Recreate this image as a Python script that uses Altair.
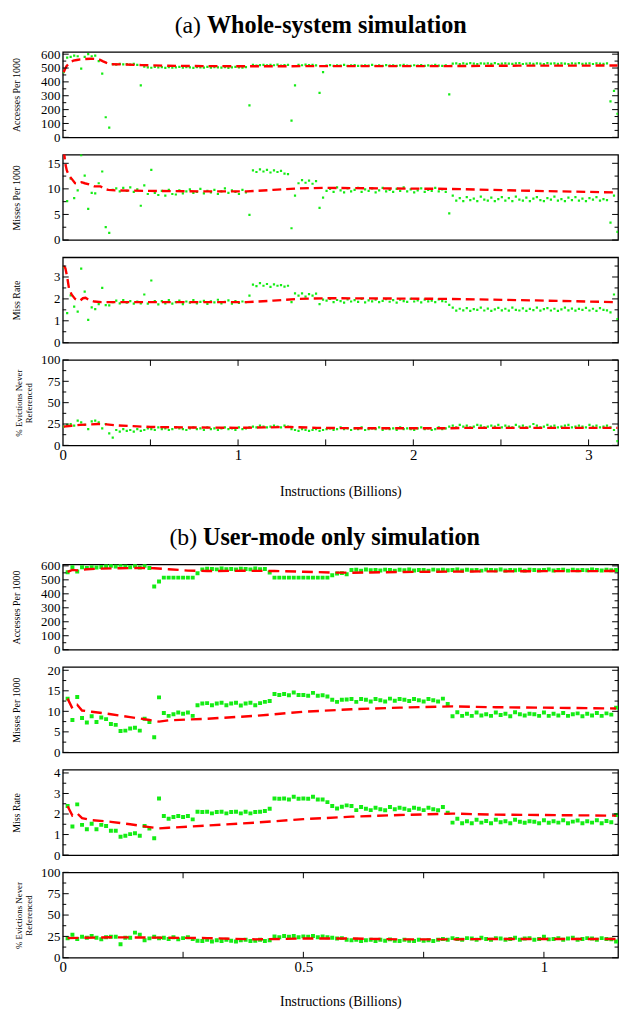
import altair as alt
import pandas as pd

SERIF = "Liberation Serif"
GREEN = "#14ec14"
RED = "#ff0000"

TITLE_A = ["(a)", "Whole-system simulation"]
TITLE_B = ["(b)", "User-mode only simulation"]
X_TITLE = "Instructions (Billions)"
Y_TITLES = ["Accesses Per 1000", "Misses Per 1000", "Miss Rate", ["% Evictions Never", "Referenced"]]

# ---------------- (a) whole-system: samples every 0.02 billion instructions
top_x = [round(0.005 + 0.02 * i, 3) for i in range(159)]

top_access = [470, 575, 580, 590, 585, 495, 580, 600, 585, 590, 550, 460, 145, 70,
              528, 525, 530, 526, 528, 524, 530, 522,
              375, 510, 505,
              502, 508, 504, 506, 501, 507, 503, 505, 508, 502, 506, 504, 501, 507, 505, 503, 508, 502, 506, 504,
              503, 507, 501, 505, 508, 504, 502, 506,
              230,
              522, 518, 521, 523, 519, 522, 520, 524, 518, 521, 522,
              120, 375,
              522, 520, 524, 521, 523, 519,
              320, 470,
              518, 521, 516, 520, 517, 522, 515, 519, 521, 516, 518, 520, 517, 522, 516, 519, 515, 521, 518, 520,
              516, 519, 522, 517, 515, 520, 518, 521, 516, 519, 517, 522, 518, 515, 520,
              310,
              531, 534, 529, 533, 530, 535, 532, 529, 534, 531, 533, 530, 535, 529, 532, 534, 531, 530, 533, 535,
              529, 532, 534, 530, 533, 531, 529, 535, 532, 533, 530, 534, 531, 529, 533, 532, 535, 530, 531, 534,
              529, 533, 532, 530, 534,
              260, 335, 170]

top_miss = [17.2, 7.6, 12.0, 8.2, 9.7, 16.6, 12.6, 6.1, 9.2, 9.1, 11.1, 13.4, 2.5, 1.4,
            9.8, 10.1, 9.5, 10.2, 9.6, 10.3, 9.4, 9.9,
            6.7, 10.7, 9.0, 13.7, 9.2,
            8.8, 9.6, 8.7, 9.8, 9.0, 8.9, 9.7, 9.1, 9.5, 9.9, 9.2, 9.4, 10.0, 9.1, 9.6, 9.3, 9.8, 9.0, 9.5, 10.1,
            9.2, 9.7, 9.4, 9.0, 9.8, 9.3,
            4.9,
            13.6, 13.3, 13.8, 13.4, 13.7, 13.2, 13.6, 13.3, 13.5, 13.0, 12.9,
            2.3, 8.7,
            11.1, 11.7, 11.2, 11.6, 11.0, 11.5,
            6.3, 8.3,
            9.6, 10.0, 9.4, 10.3, 9.7, 9.3, 10.1, 9.5, 9.8, 10.2, 9.4, 9.9, 9.6, 10.1, 9.3, 9.7, 10.2, 9.5, 9.8, 9.4,
            10.0, 9.6, 10.3, 9.5, 9.9, 9.3, 9.7, 10.1, 9.4, 9.8, 9.6, 10.2, 9.5, 9.9, 9.4,
            5.2,
            8.7, 7.7, 8.2, 7.6, 8.4, 7.8, 8.1, 7.6, 8.5, 7.9, 7.7, 8.3, 7.6, 8.0, 8.4, 7.7, 8.2, 7.6, 8.5, 7.9,
            7.7, 8.3, 7.6, 8.1, 8.4, 7.8, 7.6, 8.2, 7.9, 8.5, 7.7, 8.0, 7.6, 8.3, 7.8, 8.4, 7.7, 8.1, 7.6, 8.2,
            7.9, 8.4, 7.7, 8.0, 7.8,
            3.4, 8.7, 1.6]

top_rate = [3.45, 1.35, 2.16, 1.65, 1.42, 3.38, 2.33, 1.04, 1.61, 1.53, 1.76, 2.5, 1.72, 1.7,
            1.85, 1.92, 1.8, 1.95, 1.83, 1.9, 1.78, 1.88,
            1.8, 2.2, 1.78, 2.84, 1.9,
            1.75, 1.9, 1.8, 1.95, 1.78, 1.85, 1.92, 1.76, 1.88, 1.83, 1.95, 1.79, 1.86, 1.91, 1.77, 1.89, 1.84,
            1.96, 1.8, 1.87, 1.93, 1.78, 1.9, 1.82, 1.88, 1.85,
            2.15,
            2.65, 2.58, 2.72, 2.6, 2.68, 2.55, 2.66, 2.6, 2.63, 2.56, 2.6,
            1.85, 2.25,
            2.15, 2.25, 2.1, 2.22, 2.15, 2.24,
            1.76, 1.97,
            1.92, 2.0, 1.85, 1.95, 1.9, 1.83, 1.98, 1.88, 1.94, 1.86, 2.0, 1.84, 1.93, 1.89, 1.97, 1.85, 1.91,
            1.99, 1.87, 1.94, 1.83, 1.96, 1.9, 1.86, 2.0, 1.88, 1.93, 1.84, 1.97, 1.89, 1.92, 1.85, 1.98, 1.9, 1.87,
            1.73,
            1.6, 1.46, 1.55, 1.48, 1.58, 1.45, 1.53, 1.5, 1.6, 1.47, 1.56, 1.45, 1.52, 1.59, 1.48, 1.55, 1.46,
            1.6, 1.5, 1.47, 1.57, 1.45, 1.54, 1.49, 1.6, 1.46, 1.53, 1.58, 1.47, 1.55, 1.45, 1.52, 1.6, 1.48,
            1.56, 1.46, 1.54, 1.5, 1.59, 1.47, 1.55, 1.45, 1.58, 1.5, 1.48,
            1.38, 2.2, 1.08]

top_evict = [22, 24, 25, 23, 29, 27, 24, 19, 28, 29, 27, 20, 25, 14,
             9,
             18, 16, 19, 17, 18, 16, 19,
             17, 18, 20, 19, 18, 21, 19, 20, 18, 19, 21, 20, 19, 18, 20, 21, 19, 20, 18, 21, 19, 20, 18, 20,
             21, 19, 20, 18, 21, 19, 20,
             21, 22, 21, 23, 22, 21, 22, 23, 22, 21, 23, 22,
             19, 18, 17, 19, 18, 17, 18, 19, 17, 18,
             19, 20, 18, 19, 21, 19, 20, 18, 20, 19, 21, 18, 19, 20, 19, 21, 18, 20, 19, 20, 18, 21, 19, 20,
             19, 18, 20, 21, 19, 20, 18, 19, 21, 19, 20,
             22, 23, 21, 24, 22, 23, 21, 22, 24, 23, 21, 22, 23, 22, 24, 21, 23, 22, 21, 24, 22, 23, 21, 22,
             25, 23, 21, 22, 24, 22, 23, 21, 22, 23, 24, 21, 22, 23, 22, 21, 24, 22, 23, 21, 22, 23,
             21, 18, 5]

# running averages (red dashed)
top_access_avg_x = [0.005, 0.02, 0.04, 0.06, 0.08, 0.1, 0.13, 0.16, 0.19, 0.21, 0.23, 0.25, 0.27, 0.35,
                    0.45, 0.6, 0.8, 1.0, 1.1, 1.3, 1.5, 1.8, 2.2, 2.6, 3.165]
top_access_avg = [470, 512, 540, 553, 558, 562, 565, 567, 565, 560, 548, 537, 527, 526,
                  521, 516, 514, 513, 513, 513, 514, 514, 514, 517, 518]
top_miss_avg_x = [0.005, 0.01, 0.015, 0.023, 0.035, 0.05, 0.07, 0.09, 0.107, 0.125, 0.15, 0.18, 0.215,
                  0.235, 0.26, 0.3, 0.5, 0.8, 1.05, 1.2, 1.35, 1.5, 1.8, 2.2, 2.7, 3.165]
top_miss_avg = [17.5, 16.3, 14.8, 13.6, 12.6, 12.0, 11.1, 11.0, 11.3, 11.1, 10.9, 10.5, 10.5,
                10.0, 9.8, 9.7, 9.6, 9.5, 9.5, 9.8, 10.1, 10.2, 10.1, 10.0, 9.6, 9.3]
top_rate_avg_x = [0.005, 0.015, 0.025, 0.035, 0.05, 0.07, 0.09, 0.1, 0.115, 0.13, 0.15, 0.18, 0.22,
                  0.3, 0.6, 1.05, 1.2, 1.35, 1.5, 1.8, 2.2, 2.7, 3.165]
top_rate_avg = [3.5, 3.4, 3.0, 2.5, 2.2, 2.0, 1.92, 1.93, 2.03, 2.05, 1.95, 1.88, 1.85,
                1.85, 1.85, 1.85, 1.92, 2.0, 2.03, 2.02, 2.0, 1.93, 1.85]
top_evict_avg_x = [0.005, 0.05, 0.1, 0.15, 0.2, 0.25, 0.3, 0.4, 0.5, 0.7, 1.0, 1.15, 1.3, 1.45, 1.7,
                   2.2, 2.3, 2.7, 3.165]
top_evict_avg = [22, 23, 24, 24.5, 25, 24.5, 23.5, 22.5, 21.5, 21, 20.5, 21, 21.5, 20.5, 20,
                 20, 20.5, 20.5, 20.5]

# ---------------- (b) user-mode only: samples every 0.01 billion instructions
bot_x = [round(0.01 * (i + 1), 2) for i in range(115)]

bot_access = [555, 590, 560, 590, 585, 590, 588, 592, 598, 600, 595, 608, 595, 590, 600, 588, 600, 585,
              452, 488,
              516, 516, 516, 516, 516, 516, 516,
              547, 575, 580, 578, 575, 582, 576, 578, 574, 580, 577, 575, 581, 576, 578, 552,
              516, 516, 516, 516, 516, 516, 516, 516, 516, 516, 516, 516,
              533, 545, 548, 540, 570, 572, 566, 574, 569, 571, 567, 573, 570, 566, 572, 569, 574, 567, 571,
              570, 566, 573, 569, 572, 568,
              570, 574, 567, 572, 569, 571, 566, 573, 570, 568, 574, 567, 571, 569, 572, 566, 573, 570, 568,
              571, 574, 567, 570, 572, 566, 573, 569, 571, 568, 574, 570, 567, 572, 569, 571]

bot_miss = [13.1, 7.9, 13.5, 8.4, 7.3, 8.8, 7.4, 8.5, 8.1, 6.9, 6.7, 5.2, 5.3, 5.8, 6.0, 5.3, 8.2, 7.4,
            3.7, 13.4,
            9.6, 8.9, 9.3, 9.7, 9.4, 9.7, 8.9,
            11.5, 11.9, 12.0, 11.5, 11.9, 12.1, 11.5, 11.9, 12.1, 11.4, 11.9, 12.1, 11.5, 12.0, 12.3, 12.5,
            14.2, 14.0, 14.2, 13.9, 14.6, 14.0, 14.0, 13.8, 14.5, 13.8, 13.9, 13.6,
            12.8, 12.3, 12.8, 12.9, 13.0, 12.3, 13.0, 12.8, 12.4, 13.0, 12.7, 12.4, 13.1, 12.6, 13.0, 12.8,
            12.5, 13.0, 12.7, 12.4, 13.0, 12.7, 12.4, 13.1, 11.8,
            8.8, 9.8, 8.9, 9.4, 8.9, 9.7, 9.0, 9.3, 8.9, 9.7, 9.1, 9.4, 8.8, 9.8, 9.3, 9.0, 9.4, 9.3, 8.9,
            9.7, 8.9, 9.4, 9.0, 9.6, 8.9, 9.3, 9.5, 8.8, 9.4, 9.0, 9.6, 8.9, 9.5, 9.2, 10.9]

bot_rate = [2.39, 1.39, 2.47, 1.47, 1.26, 1.53, 1.26, 1.47, 1.42, 1.18, 1.18, 0.89, 0.94, 1.02, 1.06,
            0.94, 1.42, 1.29,
            0.82, 2.76,
            1.9, 1.77, 1.85, 1.9, 1.85, 1.9, 1.74,
            2.11, 2.1, 2.11, 2.03, 2.1, 2.11, 2.03, 2.1, 2.11, 2.03, 2.11, 2.03, 2.1, 2.11, 2.15, 2.26,
            2.76, 2.74, 2.76, 2.71, 2.84, 2.74, 2.76, 2.74, 2.84, 2.71, 2.71, 2.58,
            2.39, 2.27, 2.35, 2.42, 2.39, 2.19, 2.34, 2.26, 2.19, 2.31, 2.23, 2.18, 2.34, 2.23, 2.31, 2.26,
            2.19, 2.31, 2.26, 2.19, 2.31, 2.23, 2.18, 2.34, 2.06,
            1.58, 1.77, 1.55, 1.65, 1.55, 1.72, 1.58, 1.66, 1.55, 1.72, 1.6, 1.65, 1.55, 1.72, 1.62, 1.57,
            1.65, 1.62, 1.55, 1.7, 1.57, 1.65, 1.58, 1.7, 1.55, 1.63, 1.68, 1.55, 1.65, 1.58, 1.7, 1.55,
            1.66, 1.6, 1.95]

bot_evict = [22.7, 27, 22, 24.7, 23.5, 25.5, 23.5, 21.6, 24, 24.7, 24.7, 15.7, 23.5, 23.5, 29.4, 27,
             20.4, 22.7,
             24.7, 22.7,
             23.5, 22, 24, 21.5, 23, 24, 22,
             20, 19.5, 21, 19, 20.5, 19.5, 21, 20, 19, 20.5, 21, 19.5, 20, 21, 19.5, 20.5,
             25, 24, 25.5, 24.5, 25.5, 24, 25, 24.5, 25.5, 24, 25, 24,
             23.5, 22.5, 23, 21, 20.5, 21, 19.5, 20.5, 21, 19.5, 21, 20, 21.5, 20, 19.5, 21, 20, 19.5, 21,
             20, 20.5, 19.5, 21, 22, 21,
             23, 22, 21, 23, 22.5, 21, 23.5, 22, 21, 23, 22.5, 21, 22, 23.5, 21, 22.5, 23, 21, 22, 24.5,
             21.5, 22, 23, 21, 22.5, 23.5, 21, 22, 23, 22.5, 21, 23, 22, 21.5, 19]

bot_access_avg_x = [0.01, 0.02, 0.03, 0.05, 0.08, 0.12, 0.16, 0.19, 0.22, 0.26, 0.3, 0.38, 0.44, 0.5,
                    0.56, 0.6, 0.7, 0.85, 1.0, 1.15]
bot_access_avg = [557, 571, 568, 576, 580, 583, 585, 583, 576, 566, 563, 565, 563, 558,
                  552, 551, 556, 560, 562, 563]
bot_miss_avg_x = [0.01, 0.02, 0.03, 0.04, 0.06, 0.1, 0.14, 0.18, 0.2, 0.22, 0.3, 0.4, 0.5, 0.6, 0.7,
                  0.81, 0.9, 1.0, 1.15]
bot_miss_avg = [13.1, 10.7, 11.6, 10.2, 9.9, 9.3, 8.6, 7.9, 7.5, 7.8, 8.2, 8.9, 9.9, 10.5, 10.9,
                11.2, 11.0, 10.9, 10.7]
bot_rate_avg_x = bot_miss_avg_x
bot_rate_avg = [2.38, 1.92, 2.03, 1.8, 1.7, 1.62, 1.5, 1.36, 1.3, 1.33, 1.44, 1.58, 1.75, 1.87, 1.95,
                2.02, 1.97, 1.95, 1.92]
bot_evict_avg_x = [0.01, 0.1, 0.2, 0.3, 0.4, 0.5, 0.6, 0.7, 0.8, 0.9, 1.0, 1.15]
bot_evict_avg = [23, 24, 23.5, 23, 21.5, 22.5, 22.5, 21.5, 21.5, 22, 22, 22]

for s in (top_access, top_miss, top_rate, top_evict):
    assert len(s) == len(top_x), len(s)
for s in (bot_access, bot_miss, bot_rate, bot_evict):
    assert len(s) == len(bot_x), len(s)

# ---------------- layout
W = 562.4
H = 86.5
GAP = 17
SPACER_H = 86
TOP_XDOM = [0, 3.168]
BOT_XDOM = [0, 1.154]
LABEL_EXPR = "toString(datum.value)"


def panel(xs, ys, lx, ly, xdom, ydom, ylabels, ymajor, yminor, ytitle,
          point_size, dash, xinfo=None, title=None):
    xscale = alt.Scale(domain=xdom, nice=False, zero=False)
    yscale = alt.Scale(domain=ydom, nice=False, zero=False)
    multi = isinstance(ytitle, list)
    yaxis = alt.Axis(values=ylabels, labelExpr=LABEL_EXPR, tickSize=0, domain=False, grid=False,
                     labelFont=SERIF, labelFontSize=13, labelColor="black", labelPadding=3,
                     title=ytitle, titleFont=SERIF, titleFontSize=9 if multi else 10,
                     titleFontWeight="normal", titleColor="black", titleAngle=270,
                     titleAlign="center", titleBaseline="middle", titleLineHeight=10,
                     titleX=-45 if multi else -46.5, titleY=H / 2)
    if xinfo is not None:
        xaxis = alt.Axis(values=xinfo["labels"], labelExpr=LABEL_EXPR, tickSize=0, domain=False,
                         grid=False, labelFont=SERIF, labelFontSize=15, labelColor="black",
                         labelPadding=2, labelFlush=False, labelOverlap=False,
                         title=X_TITLE, titleFont=SERIF, titleFontSize=14, titleFontWeight="normal",
                         titleColor="black", titleBaseline="middle", titleY=xinfo["title_y"])
    else:
        xaxis = None
    xenc = alt.X("x:Q", scale=xscale, axis=xaxis)
    yenc = alt.Y("y:Q", scale=yscale, axis=yaxis)

    pts = alt.Chart(pd.DataFrame({"x": xs, "y": ys})).mark_square(
        size=point_size, color=GREEN, opacity=1, clip=True).encode(x=xenc, y=yenc)
    line = alt.Chart(pd.DataFrame({"x": lx, "y": ly})).mark_line(
        color=RED, strokeWidth=2.4, strokeDash=dash, clip=True).encode(x=xenc, y=yenc)
    layers = [pts, line]

    maj = pd.DataFrame({"y": ymajor})
    mnr = pd.DataFrame({"y": yminor})
    for df, ln in ((maj, 6), (mnr, 3.5)):
        layers.append(alt.Chart(df).mark_rule(color="black", strokeWidth=1).encode(
            y=yenc, x=alt.value(0), x2=alt.value(ln)))
        layers.append(alt.Chart(df).mark_rule(color="black", strokeWidth=1).encode(
            y=yenc, x=alt.value(W - ln), x2=alt.value(W)))
    if xinfo is not None:
        xt = pd.DataFrame({"x": xinfo["ticks"]})
        layers.append(alt.Chart(xt).mark_rule(color="black", strokeWidth=1).encode(
            x=xenc, y=alt.value(0), y2=alt.value(6)))
        layers.append(alt.Chart(xt).mark_rule(color="black", strokeWidth=1).encode(
            x=xenc, y=alt.value(H - 6), y2=alt.value(H)))
    if title is not None:
        layers += title_layers(title[0], title[1], title[2])
    return alt.layer(*layers).properties(width=W, height=H)


def title_layers(parts, x_split, y):
    a = alt.Chart(pd.DataFrame({"t": [parts[0]]})).mark_text(
        font=SERIF, fontSize=24, align="right", baseline="middle", color="black").encode(
        text="t:N", x=alt.value(x_split), y=alt.value(y))
    b = alt.Chart(pd.DataFrame({"t": [parts[1]]})).mark_text(
        font=SERIF, fontSize=24.5, fontWeight="bold", align="left", baseline="middle",
        color="black").encode(text="t:N", x=alt.value(x_split + 6), y=alt.value(y))
    return [a, b]


TOP_DASH = [9, 5]
BOT_DASH = [11, 6]
acc_lab = [0, 100, 200, 300, 400, 500, 600]
acc_min = [50, 150, 250, 350, 450, 550]
ev_lab = [0, 25, 50, 75, 100]
ev_min = [12.5, 37.5, 62.5, 87.5]

a1 = panel(top_x, top_access, top_access_avg_x, top_access_avg, TOP_XDOM, [0, 616],
           acc_lab, acc_lab, acc_min, Y_TITLES[0], 5, TOP_DASH,
           title=(TITLE_A, 140, -26.5))
a2 = panel(top_x, top_miss, top_miss_avg_x, top_miss_avg, TOP_XDOM, [0, 16.7],
           [0, 5, 10, 15], [0, 5, 10, 15], [2.5, 7.5, 12.5], Y_TITLES[1], 5, TOP_DASH)
a3 = panel(top_x, top_rate, top_rate_avg_x, top_rate_avg, TOP_XDOM, [0, 3.9],
           [0, 1, 2, 3], [0, 1, 2, 3], [0.5, 1.5, 2.5, 3.5], Y_TITLES[2], 5, TOP_DASH)
a4 = panel(top_x, top_evict, top_evict_avg_x, top_evict_avg, TOP_XDOM, [0, 100],
           ev_lab, ev_lab, ev_min, Y_TITLES[3], 5, TOP_DASH,
           xinfo={"labels": [0, 1, 2, 3], "ticks": [0.5, 1, 1.5, 2, 2.5, 3], "title_y": 46.5})

spacer = alt.layer(*title_layers(TITLE_B, 136, SPACER_H + GAP - 26.7)).properties(
    width=W, height=SPACER_H, view=alt.ViewBackground(strokeOpacity=0))

b1 = panel(bot_x, bot_access, bot_access_avg_x, bot_access_avg, BOT_XDOM, [0, 611],
           acc_lab, acc_lab, acc_min, Y_TITLES[0], 16, BOT_DASH)
b2 = panel(bot_x, bot_miss, bot_miss_avg_x, bot_miss_avg, BOT_XDOM, [0, 20.8],
           [0, 5, 10, 15, 20], [0, 5, 10, 15, 20], [2.5, 7.5, 12.5, 17.5], Y_TITLES[1], 16, BOT_DASH)
b3 = panel(bot_x, bot_rate, bot_rate_avg_x, bot_rate_avg, BOT_XDOM, [0, 4.16],
           [0, 1, 2, 3, 4], [0, 1, 2, 3, 4], [0.5, 1.5, 2.5, 3.5], Y_TITLES[2], 16, BOT_DASH)
b4 = panel(bot_x, bot_evict, bot_evict_avg_x, bot_evict_avg, BOT_XDOM, [0, 100],
           ev_lab, ev_lab, ev_min, Y_TITLES[3], 16, BOT_DASH,
           xinfo={"labels": [0, 0.5, 1], "ticks": [0.25, 0.5, 0.75, 1], "title_y": 44.3})

chart = alt.vconcat(a1, a2, a3, a4, spacer, b1, b2, b3, b4, spacing=GAP, bounds="flush").properties(
    padding={"left": 2.5, "top": -3, "right": 0, "bottom": 0},
    background="white",
).configure_view(stroke="black", strokeWidth=1.3)

chart.save("out.html", embed_options={"renderer": "svg", "actions": False})
